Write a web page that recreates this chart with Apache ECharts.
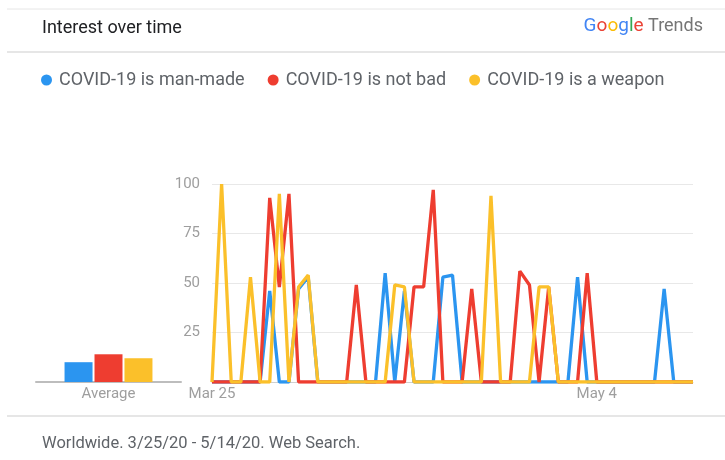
<!DOCTYPE html>
<html>
<head>
<meta charset="utf-8">
<script src="https://cdn.jsdelivr.net/npm/echarts@6/dist/echarts.min.js"></script>
<style>
  html, body { margin: 0; padding: 0; background: #fff; }
  #main { width: 725px; height: 460px; }
</style>
</head>
<body>
<div id="main"></div>
<script>
// days shown on the x axis (3/25/20 - 5/14/20)
const days = [
  'Mar 25', 'Mar 26', 'Mar 27', 'Mar 28', 'Mar 29', 'Mar 30', 'Mar 31',
  'Apr 1', 'Apr 2', 'Apr 3', 'Apr 4', 'Apr 5', 'Apr 6', 'Apr 7', 'Apr 8', 'Apr 9',
  'Apr 10', 'Apr 11', 'Apr 12', 'Apr 13', 'Apr 14', 'Apr 15', 'Apr 16', 'Apr 17',
  'Apr 18', 'Apr 19', 'Apr 20', 'Apr 21', 'Apr 22', 'Apr 23', 'Apr 24', 'Apr 25',
  'Apr 26', 'Apr 27', 'Apr 28', 'Apr 29', 'Apr 30', 'May 1', 'May 2', 'May 3',
  'May 4', 'May 5', 'May 6', 'May 7', 'May 8', 'May 9', 'May 10', 'May 11',
  'May 12', 'May 13', 'May 14'
]
const shownDays = ['Mar 25', 'May 4']

const termNames = ['COVID-19 is man-made', 'COVID-19 is not bad', 'COVID-19 is a weapon']
const termColors = ['#2B95F0', '#EE3D30', '#FBC02A']

// interest per day, one list per term
const manMade = [
  0, 0, 0, 0, 0, 0, 46, 0, 0, 47, 53, 0, 0, 0, 0, 0, 0, 0, 55, 0,
  46, 0, 0, 0, 53, 54, 0, 0, 0, 0, 0, 0, 0, 0, 0, 0, 0, 0, 53, 0,
  0, 0, 0, 0, 0, 0, 0, 47, 0, 0, 0
]
const notBad = [
  0, 0, 0, 0, 0, 0, 93, 48, 95, 0, 0, 0, 0, 0, 0, 49, 0, 0, 0, 0,
  0, 48, 48, 97, 0, 0, 0, 47, 0, 0, 0, 0, 56, 49, 0, 48, 0, 0, 0, 55,
  0, 0, 0, 0, 0, 0, 0, 0, 0, 0, 0
]
const weapon = [
  0, 100, 0, 0, 53, 0, 0, 95, 0, 48, 54, 0, 0, 0, 0, 0, 0, 0, 0, 49,
  48, 0, 0, 0, 0, 0, 0, 0, 0, 94, 0, 0, 0, 0, 48, 48, 0, 0, 0, 0,
  0, 0, 0, 0, 0, 0, 0, 0, 0, 0, 0
]
// the "Average" bars on the left
const averages = [10, 14, 12]
const yTicks = [0, 25, 50, 75, 100]

const FONT = 'Roboto, "Noto Sans", sans-serif'
const chart = echarts.init(document.getElementById('main'), null, {renderer: 'canvas'})

const lineData = [manMade, notBad, weapon]
let series = []
// line series (blue, red, yellow - yellow ends up on top)
for (let i = 0; i < 3; i++) {
  series.push({
    name: termNames[i],
    type: 'line',
    xAxisIndex: 1,
    yAxisIndex: 1,
    data: lineData[i],
    symbol: 'none',
    lineStyle: {width: 3.3, color: termColors[i]},
    itemStyle: {color: termColors[i]},
    z: 3 + i
  })
}
// average bars
for (let i = 0; i < 3; i++) {
  series.push({
    name: termNames[i],
    type: 'bar',
    xAxisIndex: 0,
    yAxisIndex: 0,
    data: [averages[i]],
    barWidth: 28,
    barGap: '7%',
    itemStyle: {color: termColors[i]}
  })
}

const option = {
  backgroundColor: '#fff',
  animation: false,
  textStyle: {fontFamily: FONT},
  legend: {
    data: termNames,
    left: 36,
    top: 66,
    icon: 'circle',
    itemWidth: 11,
    itemHeight: 11,
    itemGap: 23,
    textStyle: {fontSize: 18, color: '#5f6368', fontFamily: FONT, padding: [0, 0, 0, 2]}
  },
  grid: [
    {left: 36, width: 145, top: 184, bottom: 78},
    {left: 212, right: 32, top: 184, bottom: 78}
  ],
  xAxis: [
    {
      gridIndex: 0,
      type: 'category',
      data: ['Average'],
      axisTick: {show: false},
      axisLine: {lineStyle: {color: '#bdbdbd', width: 2}},
      axisLabel: {color: '#9e9e9e', fontSize: 15, margin: 5}
    },
    {
      gridIndex: 1,
      type: 'category',
      data: days,
      boundaryGap: false,
      axisTick: {show: false},
      axisLine: {lineStyle: {color: '#d0d0d0', width: 1}},
      axisLabel: {
        color: '#9e9e9e',
        fontSize: 15,
        margin: 5,
        interval: function (idx, val) { return shownDays.indexOf(val) >= 0 }
      }
    }
  ],
  yAxis: [
    {
      gridIndex: 0,
      type: 'value',
      min: 0,
      max: 100,
      show: false
    },
    {
      gridIndex: 1,
      type: 'value',
      min: yTicks[0],
      max: yTicks[yTicks.length - 1],
      interval: 25,
      axisLine: {show: false},
      axisTick: {show: false},
      splitLine: {lineStyle: {color: '#e8e8e8', width: 1}},
      axisLabel: {
        color: '#9e9e9e',
        fontSize: 15,
        margin: 12,
        formatter: function (v) { return v === 0 ? '' : String(v) }
      }
    }
  ],
  graphic: [
    {type: 'line', shape: {x1: 7, y1: 9, x2: 725, y2: 9}, style: {stroke: '#e6e6e6', lineWidth: 1}},
    {type: 'line', shape: {x1: 7, y1: 52, x2: 725, y2: 52}, style: {stroke: '#e6e6e6', lineWidth: 2}},
    {type: 'line', shape: {x1: 7, y1: 416, x2: 725, y2: 416}, style: {stroke: '#e6e6e6', lineWidth: 2}},
    {
      type: 'text', left: 42, top: 19,
      style: {text: 'Interest over time', font: '18px ' + FONT, fill: '#202124'}
    },
    {
      type: 'text', right: 22, top: 17,
      style: {
        text: '{b|G}{r|o}{y|o}{b|g}{g|l}{r|e} {t|Trends}',
        font: '18px ' + FONT,
        rich: {
          b: {fill: '#4285F4', fontSize: 19, fontFamily: FONT},
          r: {fill: '#EA4335', fontSize: 19, fontFamily: FONT},
          y: {fill: '#FBBC05', fontSize: 19, fontFamily: FONT},
          g: {fill: '#34A853', fontSize: 19, fontFamily: FONT},
          t: {fill: '#757575', fontSize: 18, fontFamily: FONT}
        }
      }
    },
    {
      type: 'text', left: 42, top: 435,
      style: {text: 'Worldwide. 3/25/20 - 5/14/20. Web Search.', font: '16.5px ' + FONT, fill: '#5f6368'}
    }
  ],
  series: series
}

chart.setOption(option)
</script>
</body>
</html>
